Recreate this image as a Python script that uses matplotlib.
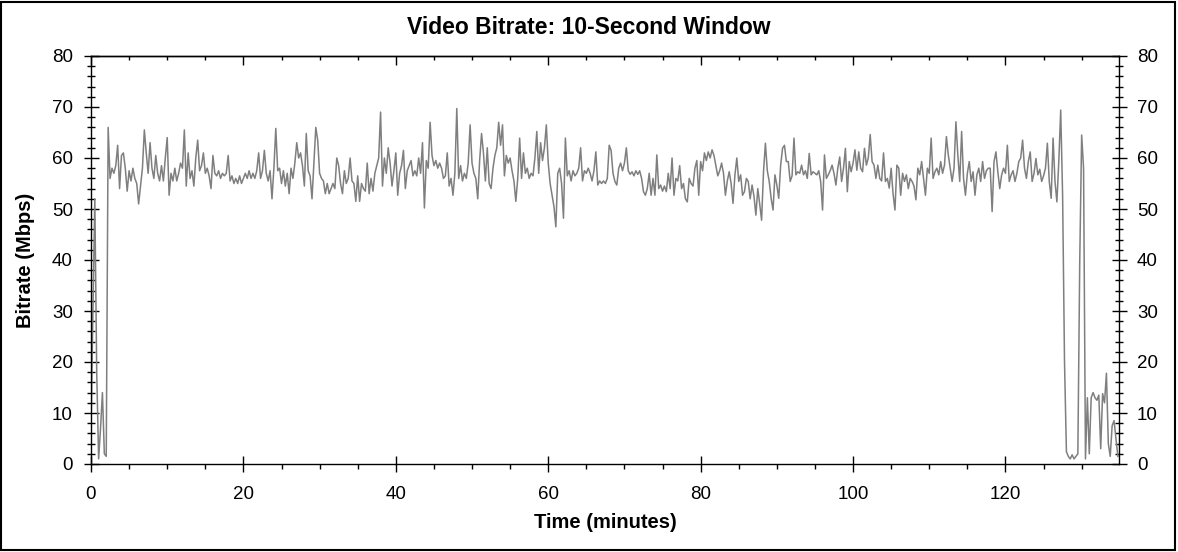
import matplotlib
matplotlib.use("Agg")
import matplotlib.pyplot as plt
import numpy as np
from matplotlib.patches import Rectangle
from matplotlib.ticker import MultipleLocator

plt.rcParams['font.family'] = ['Liberation Sans', 'DejaVu Sans']

# one sample every 15 seconds (Mbps)
step_min = 0.25
bitrate = [
    7, 30, 52, 18,            # 0
    1, 7, 14, 2,              # 1
    1.5, 66, 56, 58,          # 2
    57, 58.5, 62.5, 54,       # 3
    60.5, 61, 58, 53.5,       # 4
    57.5, 55.5, 58, 56,       # 5
    55, 51, 54.5, 58,         # 6
    65.5, 61, 57, 63,         # 7
    58, 56, 60.5, 57,         # 8
    55.5, 58.5, 55.5, 60,     # 9
    64, 52.7, 57, 55.5,       # 10
    58, 55.5, 57, 59,         # 11
    58, 65.5, 54.5, 61,       # 12
    56, 57.5, 54.5, 60,       # 13
    63.5, 57.5, 58.5, 61,     # 14
    57, 58, 56.5, 54,         # 15
    60.5, 57, 56.5, 57.5,     # 16
    56, 57, 56.5, 57,         # 17
    60.5, 55.5, 56.5, 55,     # 18
    56, 55, 56.5, 55,         # 19
    56, 57, 56, 57.5,         # 20
    56, 57, 56, 57.5,         # 21
    61, 56, 57.5, 61.5,       # 22
    57, 55.5, 57.5, 52,       # 23
    58, 65.8, 57.5, 58,       # 24
    55, 57.5, 54.5, 57,       # 25
    53, 58, 56, 59,           # 26
    63, 60, 61, 58.5,         # 27
    54.5, 64.8, 57.5, 56.5,   # 28
    52, 59, 66, 63.5,         # 29
    57, 56, 55.5, 53,         # 30
    55, 53, 54, 55,           # 31
    54, 60, 58.5, 55,         # 32
    53, 57.5, 55, 56,         # 33
    60, 55.5, 55, 51.5,       # 34
    56.5, 51.5, 55, 54,       # 35
    53.5, 59, 53, 56,         # 36
    53.5, 57, 58.5, 60,       # 37
    69, 54.5, 60, 57,         # 38
    62, 59, 54.5, 57.5,       # 39
    61, 52.7, 57, 58.5,       # 40
    61.5, 54, 57.5, 58.5,     # 41
    59.5, 56.5, 57.5, 56.5,   # 42
    60, 57, 63, 50.2,         # 43
    59.5, 58, 67, 60.5,       # 44
    58.5, 59.5, 58, 59,       # 45
    58, 56, 56.5, 61,         # 46
    54.5, 56, 52.7, 57,       # 47
    69.7, 56, 58.5, 55.5,     # 48
    57, 56, 59, 66.5,         # 49
    59, 57, 56, 52,           # 50
    59.5, 64.8, 61, 55.5,     # 51
    62, 55, 54, 58,           # 52
    60.5, 62, 67, 62.5,       # 53
    66.5, 56.5, 60.5, 59,     # 54
    60, 57.5, 55.5, 51.5,     # 55
    56, 63.9, 56, 61,         # 56
    57, 58, 56, 57,           # 57
    56.5, 60, 65.2, 57,       # 58
    63, 59.5, 62, 66.5,       # 59
    59, 55, 52.7, 50.5,       # 60
    46.5, 57, 58, 55,         # 61
    48.2, 63.9, 56.5, 57.5,   # 62
    55.5, 57.5, 56.5, 57,     # 63
    58, 62, 55.5, 57.5,       # 64
    57, 58, 57, 55.5,         # 65
    57.5, 61.2, 54.7, 55.5,   # 66
    55, 55.5, 55, 56,         # 67
    62.5, 61.5, 57, 55.4,     # 68
    54.7, 58, 59, 57.5,       # 69
    59, 62, 57.5, 56.8,       # 70
    57.3, 56.5, 57.5, 56.8,   # 71
    57.5, 56, 53.4, 52.7,     # 72
    54, 57, 52.7, 56,         # 73
    52.7, 60.6, 54, 54.7,     # 74
    53.5, 54.5, 53.4, 57,     # 75
    54, 60, 52.7, 56,         # 76
    55.5, 58.5, 54, 55,       # 77
    52, 51.4, 56, 55,         # 78
    54.5, 58, 59.5, 52.7,     # 79
    59.3, 57.5, 61, 59.5,     # 80
    61.2, 60, 61.6, 60.5,     # 81
    58.5, 56.5, 57.5, 59,     # 82
    57, 52.7, 55.5, 57.3,     # 83
    55, 51.1, 56.7, 60,       # 84
    55.4, 56.7, 52.7, 53.4,   # 85
    56, 55.4, 52, 54.7,       # 86
    52.5, 48.8, 54, 51,       # 87
    47.8, 57.3, 62.9, 57.5,   # 88
    55.4, 52.1, 49.8, 56.7,   # 89
    54.7, 52.1, 58.6, 61.9,   # 90
    62.5, 59.3, 59.3, 55.4,   # 91
    56.5, 63.9, 56.7, 57.3,   # 92
    57, 58.6, 56.7, 57.5,     # 93
    56, 60.9, 56.7, 57.3,     # 94
    57, 56.7, 57.5, 55.4,     # 95
    49.8, 60.6, 56, 56.7,     # 96
    57.5, 58.6, 57, 54.7,     # 97
    58, 60.2, 55.4, 58,       # 98
    61.9, 53.4, 59.3, 57.3,   # 99
    59, 61.6, 57.6, 61.2,     # 100
    58, 57.3, 61.9, 58.6,     # 101
    60, 64.6, 59.3, 58.6,     # 102
    56, 58.6, 56, 55.5,       # 103
    61, 55.4, 56, 54.1,       # 104
    58, 53, 49.8, 58.6,       # 105
    58, 52.7, 57, 55.4,       # 106
    56.7, 54, 56, 55.4,       # 107
    54.5, 51.8, 58, 56.7,     # 108
    59.3, 56, 52.7, 58,       # 109
    57, 63.9, 56, 57.3,       # 110
    58, 56.7, 59.3, 57,       # 111
    58.6, 64.2, 60.6, 58,     # 112
    55.4, 58, 67.1, 60.6,     # 113
    55.4, 65.2, 56, 52.7,     # 114
    57, 59.3, 55.4, 57.3,     # 115
    52.7, 56.7, 58, 55.4,     # 116
    59.3, 56, 57.5, 58,       # 117
    58, 49.5, 59.3, 61.2,     # 118
    57.3, 54, 56.7, 58,       # 119
    57, 62.5, 55.4, 56.7,     # 120
    57.5, 55.4, 57, 59.3,     # 121
    60, 63.5, 58, 56,         # 122
    59.3, 61.2, 55.4, 57,     # 123
    59.9, 56.7, 57.8, 55.4,   # 124
    56.5, 58, 62.9, 55.4,     # 125
    52.1, 63.9, 55.4, 51.4,   # 126
    59.3, 69.4, 52.7, 20,     # 127
    2.4, 1.5, 1.0, 1.8,       # 128
    1.0, 1.5, 2.0, 40,        # 129
    64.5, 58, 1, 13,          # 130
    2, 13, 14, 13,            # 131
    12.5, 13.5, 3, 13.8,      # 132
    12, 17.8, 4, 1.5,         # 133
    7.5, 8.5, 5, 1.5,         # 134
]
minutes = np.arange(len(bitrate)) * step_min

fig = plt.figure(figsize=(11.78, 5.52), dpi=100)
ax = fig.add_axes([91 / 1178, 88 / 552, 1028 / 1178, 408 / 552])

ax.plot(minutes, bitrate, color='#7f7f7f', linewidth=1.1)

ax.set_xlim(0, 134.9)
ax.set_ylim(0, 80)
ax.xaxis.set_major_locator(MultipleLocator(20))
ax.xaxis.set_minor_locator(MultipleLocator(5))
ax.yaxis.set_major_locator(MultipleLocator(10))
ax.yaxis.set_minor_locator(MultipleLocator(2))

for sp in ax.spines.values():
    sp.set_linewidth(1.0)

# y ticks cross the axis on both sides, labels on both sides
ax.tick_params(axis='y', which='major', direction='inout', length=10.8, width=1,
               left=True, right=True, labelleft=True, labelright=True,
               labelsize=13.5, pad=7.6)
ax.tick_params(axis='y', which='minor', direction='inout', length=5.8, width=1,
               left=True, right=True)
# bottom: major ticks cross, minor point out
ax.tick_params(axis='x', which='major', direction='inout', length=11.5, width=1,
               top=False, labelsize=13.5, pad=10)
ax.tick_params(axis='x', which='minor', direction='out', length=3.6, width=1, top=False)

# top: ticks point inward, no labels
top = ax.secondary_xaxis('top')
top.xaxis.set_major_locator(MultipleLocator(20))
top.xaxis.set_minor_locator(MultipleLocator(5))
top.tick_params(which='major', direction='in', length=6.5, width=1, labeltop=False)
top.tick_params(which='minor', direction='in', length=2.9, width=1)
top.spines['top'].set_linewidth(1.0)

ax.set_xlabel('Time (minutes)', fontsize=14.5, fontweight='bold')
ax.set_ylabel('Bitrate (Mbps)', fontsize=14.5, fontweight='bold')
ax.xaxis.set_label_coords(0.5, (464 - 523) / 408)
ax.xaxis.label.set_va('center')
ax.yaxis.set_label_coords((26 - 91) / 1028, 0.5)
ax.yaxis.label.set_va('center')

fig.text(0.5, 1 - 27 / 552, 'Video Bitrate: 10-Second Window',
         ha='center', va='center', fontsize=16.5, fontweight='bold')

# frame around the whole picture
fig.patches.append(Rectangle((1 / 1178, 2 / 552), 1174 / 1178, 548 / 552,
                             transform=fig.transFigure, fill=False,
                             edgecolor='black', linewidth=1.5))

fig.savefig('out.png', dpi=100)
